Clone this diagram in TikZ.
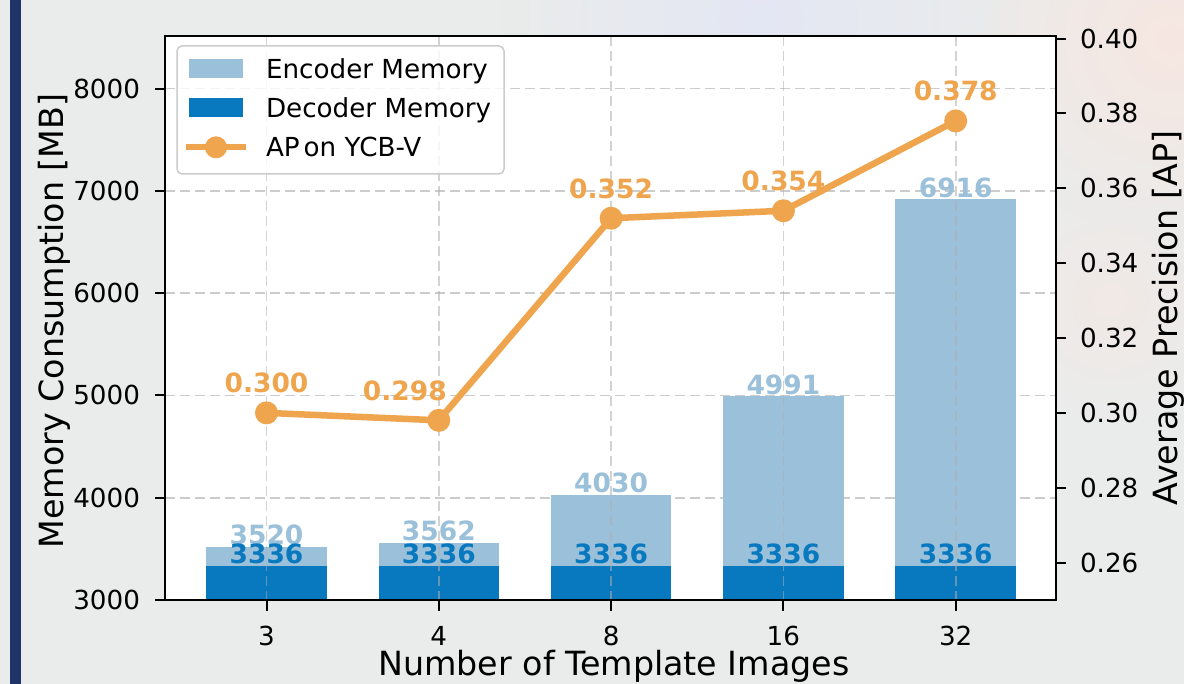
\documentclass[tikz,border=0pt]{standalone}
\usepackage{fontspec}
\setmainfont{DejaVu Sans}
\usetikzlibrary{fadings}
\tikzfading[name=softspot, inner color=transparent!0, outer color=transparent!100]
\definecolor{enc}{HTML}{9BC0DA}
\definecolor{dec}{HTML}{0878BF}
\definecolor{apc}{HTML}{EFA54D}
\definecolor{bgc}{HTML}{EAECEB}
\definecolor{navy}{HTML}{1F3468}
\definecolor{gridc}{HTML}{CCCCCC}
\definecolor{legedge}{HTML}{CCCCCC}
\definecolor{tintpink}{HTML}{F8E6E0}
\definecolor{tintblue}{HTML}{E2E6F6}
\begin{document}
\begin{tikzpicture}[x=1pt,y=-1pt,
  txt/.style={inner sep=0pt,outer sep=0pt},
  ticklab/.style={txt,font=\fontsize{26.2}{31}\selectfont},
  axlab/.style={txt,font=\fontsize{33.3}{38}\selectfont},
  leglab/.style={txt,font=\fontsize{26.2}{31}\selectfont,anchor=base west},
  vallab/.style={txt,font=\fontsize{26.5}{31}\selectfont\bfseries,anchor=base},
  gridline/.style={gridc,line width=1.6pt,dash pattern=on 10pt off 5pt},
  vgrid/.style={color={rgb,255:red,175;green,175;blue,175},opacity=0.55,line width=1.6pt,dash pattern=on 10pt off 5pt},
  spine/.style={black,line width=2.3pt},
  tick/.style={black,line width=2pt},
  apline/.style={apc,line width=6.5pt,line join=round},
  apdot/.style={circle,fill=apc,minimum size=23pt,inner sep=0pt}]
\useasboundingbox (0,0) rectangle (1184,684);
% background
\fill[bgc] (0,0) rectangle (1184,684);
\fill[tintblue,path fading=softspot,opacity=0.8] (760,20) circle (260);
\fill[tintpink,path fading=softspot,opacity=0.9] (1170,40) circle (200);
\fill[tintpink,path fading=softspot,opacity=0.5] (1110,300) circle (120);
\fill[navy] (10,0) rectangle (20.7,684);
% axes area
\fill[white] (165,36) rectangle (1056,600);
% horizontal grid (behind bars)
\foreach \v in {4000,5000,6000,7000,8000}{
  \pgfmathsetmacro\yy{600-(\v-3000)*0.1023}
  \draw[gridline] (165,\yy) -- (1056,\yy);
}
% bars
\foreach \i/\e in {0/3520,1/3562,2/4030,3/4991,4/6916}{
  \pgfmathsetmacro\xx{266.5+172.3*\i}
  \pgfmathsetmacro\ye{600-(\e-3000)*0.1023}
  \fill[enc] ({\xx-60.3},\ye) rectangle ({\xx+60.3},600);
  \fill[dec] ({\xx-60.3},565.6) rectangle ({\xx+60.3},600);
}
% vertical grid (over bars)
\foreach \i in {0,...,4}{
  \pgfmathsetmacro\xx{266.5+172.3*\i}
  \draw[vgrid] (\xx,36) -- (\xx,600);
}
% bar value labels
\foreach \i/\e in {0/3520,1/3562,2/4030,3/4991,4/6916}{
  \pgfmathsetmacro\xx{266.5+172.3*\i}
  \pgfmathsetmacro\ye{600-(\e-3000)*0.1023}
  \node[vallab,text=enc] (el\i) at (\xx,{\ye-2}) {\e};
}
\foreach \i in {0,...,4}{
  \pgfmathsetmacro\xx{266.5+172.3*\i}
  \node[vallab,text=dec] (dl\i) at (\xx,563.6) {3336};
}
% AP line
\foreach \i/\a in {0/0.300,1/0.298,2/0.352,3/0.354,4/0.378}{
  \pgfmathsetmacro\xx{266.5+172.3*\i}
  \pgfmathsetmacro\ya{600-(\a-0.25)*3742.5}
  \coordinate (p\i) at (\xx,\ya);
}
\draw[apline] (p0) -- (p1) -- (p2) -- (p3) -- (p4);
\foreach \i/\a/\dx/\dy in {0/0.300/0/20,1/0.298/-34/20,2/0.352/0/20,3/0.354/0/20,4/0.378/0/20}{
  \node[apdot] (d\i) at (p\i) {};
  \node[vallab,text=apc] (al\i) at ([xshift=\dx pt,yshift=\dy pt]p\i) {\a};
}
% legend
\fill[white,opacity=0.8,rounded corners=5pt] (177,46) rectangle (504,174);
\draw[legedge,line width=1.5pt,rounded corners=5pt] (177,46) rectangle (504,174);
\fill[enc] (189,59.3) rectangle (242.7,78.3);
\fill[dec] (189,98.3) rectangle (242.7,117.3);
\coordinate (la) at (186,147.3);
\coordinate (lb) at (246,147.3);
\draw[apc,line width=6pt] (la) -- (lb);
\node[apdot,minimum size=22pt] (ld) at (216,147.3) {};
\node[leglab] (lt1) at (266,78.3) {Encoder Memory};
\node[leglab] (lt2) at (266,117.3) {Decoder Memory};
\node[leglab] (lt3) at (266,156.5) {AP\kern4pt on YCB-V};
% spines
\draw[spine] (165,36) rectangle (1056,600);
% left ticks
\foreach \v in {3000,4000,5000,6000,7000,8000}{
  \pgfmathsetmacro\yy{600-(\v-3000)*0.1023}
  \draw[tick] (155,\yy) -- (165,\yy);
  \node[ticklab,anchor=east] (ly\v) at (140,\yy) {\v};
}
% right ticks
\foreach \v/\t in {0.26/0.26,0.28/0.28,0.30/0.30,0.32/0.32,0.34/0.34,0.36/0.36,0.38/0.38,0.40/0.40}{
  \pgfmathsetmacro\yy{600-(\v-0.25)*3742.5}
  \draw[tick] (1056,\yy) -- (1066,\yy);
  \node[ticklab,anchor=west] at (1080,\yy) {\t};
}
% x ticks
\foreach \i/\t in {0/3,1/4,2/8,3/16,4/32}{
  \pgfmathsetmacro\xx{266.5+172.3*\i}
  \draw[tick] (\xx,600) -- (\xx,611);
  \node[ticklab,anchor=north] (xt\i) at (\xx,626.5) {\t};
}
% axis labels
\node[axlab,anchor=base] (xlab) at (614,675) {Number of Template Images};
\node[axlab,anchor=base,rotate=90] (ylab) at (63,321) {Memory Consumption [MB]};
\node[axlab,anchor=base,rotate=90] (rlab) at (1177,318) {Average Precision [AP]};
\end{tikzpicture}
\end{document}
